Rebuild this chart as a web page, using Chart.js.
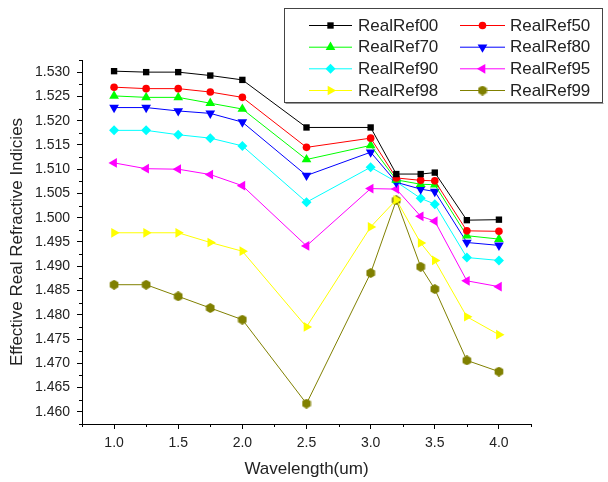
<!DOCTYPE html>
<html lang="en">
<head>
<meta charset="UTF-8">
<title>Effective Real Refractive Indicies</title>
<script src="https://cdn.jsdelivr.net/npm/chart.js"></script>
<style>
  html, body { margin: 0; padding: 0; background: #fff; }
  #wrap { width: 608px; height: 482px; position: relative; }
</style>
</head>
<body>
<div id="wrap"><canvas id="chart"></canvas></div>
<script>
// wavelength in um
const wavelengths = [1.0, 1.25, 1.5, 1.75, 2.0, 2.5, 3.0, 3.2, 3.39, 3.5, 3.75, 4.0];

const realRef00 = [1.5302, 1.5300, 1.5300, 1.5293, 1.5284, 1.5186, 1.5186, 1.5090, 1.5090, 1.5093, 1.4995, 1.4996];
const realRef50 = [1.5269, 1.5266, 1.5266, 1.5259, 1.5248, 1.5145, 1.5164, 1.5082, 1.5077, 1.5076, 1.4973, 1.4972];
const realRef70 = [1.5251, 1.5248, 1.5248, 1.5236, 1.5224, 1.5120, 1.5149, 1.5078, 1.5069, 1.5068, 1.4963, 1.4956];
const realRef80 = [1.5227, 1.5227, 1.5220, 1.5215, 1.5197, 1.5087, 1.5135, 1.5073, 1.5059, 1.5054, 1.4949, 1.4943];
const realRef90 = [1.5180, 1.5180, 1.5171, 1.5164, 1.5148, 1.5032, 1.5104, 1.5074, 1.5040, 1.5028, 1.4918, 1.4912];
const realRef95 = [1.5113, 1.5101, 1.5100, 1.5089, 1.5066, 1.4942, 1.5060, 1.5059, 1.5003, 1.4993, 1.4870, 1.4858];
const realRef98 = [1.4969, 1.4969, 1.4969, 1.4949, 1.4931, 1.4775, 1.4981, 1.5037, 1.4948, 1.4912, 1.4796, 1.4759];
const realRef99 = [1.4862, 1.4862, 1.4838, 1.4814, 1.4790, 1.4617, 1.4886, 1.5036, 1.4899, 1.4853, 1.4706, 1.4683];

const seriesNames = ['RealRef00', 'RealRef50', 'RealRef70', 'RealRef80', 'RealRef90', 'RealRef95', 'RealRef98', 'RealRef99'];
const seriesValues = [realRef00, realRef50, realRef70, realRef80, realRef90, realRef95, realRef98, realRef99];

const FONT = '"Liberation Sans", Arial, sans-serif';
const TEXT = '#222';

// Origin-like olive hexagon symbol
function hexagon(size, color) {
    const c = document.createElement('canvas');
    c.width = size;
    c.height = size;
    const g = c.getContext('2d');
    const r = size / 2;
    g.fillStyle = color;
    g.beginPath();
    for (let i = 0; i < 6; i++) {
        const a = Math.PI / 3 * i + Math.PI / 6;
        const px = r + Math.cos(a) * r;
        const py = r + Math.sin(a) * r;
        if (i === 0) g.moveTo(px, py); else g.lineTo(px, py);
    }
    g.closePath();
    g.fill();
    return c;
}

const styles = [
    { color: '#000000', point: 'rect', rot: 0, radius: 4.5 },
    { color: '#ff0000', point: 'circle', rot: 0, radius: 3.8 },
    { color: '#00ff00', point: 'triangle', rot: 0, radius: 5.6 },
    { color: '#0000ff', point: 'triangle', rot: 180, radius: 5.6 },
    { color: '#00ffff', point: 'rectRot', rot: 0, radius: 5 },
    { color: '#ff00ff', point: 'triangle', rot: 270, radius: 5.6 },
    { color: '#ffff00', point: 'triangle', rot: 90, radius: 5.6 },
    { color: '#808000', point: hexagon(10, '#808000'), rot: 0, radius: 5 },
];

const datasets = seriesNames.map((name, i) => ({
    label: name,
    data: wavelengths.map((w, j) => ({ x: w, y: seriesValues[i][j] })),
    borderColor: styles[i].color,
    backgroundColor: styles[i].color,
    borderWidth: 1,
    pointStyle: styles[i].point,
    pointRotation: styles[i].rot,
    pointRadius: styles[i].radius,
    pointBorderWidth: 0,
    tension: 0,
}));

// minor ticks (shorter) drawn on top of the scales
const minorTicks = {
    id: 'minorTicks',
    afterDraw(chart) {
        const { ctx, chartArea, scales } = chart;
        ctx.save();
        ctx.strokeStyle = '#000';
        ctx.lineWidth = 1;
        ctx.beginPath();
        scales.x.ticks.forEach(t => {
            if (Math.abs(t.value / 0.5 - Math.round(t.value / 0.5)) > 1e-6) {
                const px = Math.round(scales.x.getPixelForValue(t.value)) + 0.5;
                ctx.moveTo(px, chartArea.bottom);
                ctx.lineTo(px, chartArea.bottom + 3);
            }
        });
        scales.y.ticks.forEach(t => {
            if (Math.abs(t.value / 0.005 - Math.round(t.value / 0.005)) > 1e-6) {
                const py = Math.round(scales.y.getPixelForValue(t.value)) + 0.5;
                ctx.moveTo(chartArea.left, py);
                ctx.lineTo(chartArea.left - 3, py);
            }
        });
        ctx.stroke();
        ctx.restore();
    }
};

// boxed two-column legend, top right
const boxLegend = {
    id: 'boxLegend',
    afterDraw(chart) {
        const ctx = chart.ctx;
        const box = { left: 284.5, top: 8.5, width: 318, height: 94 };
        const rowY = [25, 46.7, 68.3, 90];
        const cols = [{ l0: 309, l1: 352, tx: 358 }, { l0: 460, l1: 505, tx: 510 }];
        ctx.save();
        ctx.fillStyle = '#fff';
        ctx.fillRect(box.left, box.top, box.width, box.height);
        ctx.strokeStyle = '#444';
        ctx.lineWidth = 1;
        ctx.strokeRect(box.left, box.top, box.width, box.height);
        ctx.strokeStyle = '#999';
        ctx.beginPath();
        ctx.moveTo(box.left + 1, box.top + box.height + 1);
        ctx.lineTo(box.left + box.width + 1, box.top + box.height + 1);
        ctx.stroke();
        ctx.font = '17px ' + FONT;
        ctx.textBaseline = 'middle';
        ctx.textAlign = 'left';
        chart.data.datasets.forEach((ds, i) => {
            const col = cols[i % 2];
            const y = rowY[Math.floor(i / 2)];
            ctx.strokeStyle = ds.borderColor;
            ctx.lineWidth = 1;
            ctx.beginPath();
            ctx.moveTo(col.l0, y + 0.5);
            ctx.lineTo(col.l1, y + 0.5);
            ctx.stroke();
            ctx.fillStyle = ds.backgroundColor;
            Chart.helpers.drawPoint(ctx, {
                pointStyle: ds.pointStyle,
                rotation: ds.pointRotation,
                radius: ds.pointRadius,
                borderWidth: 0,
            }, (col.l0 + col.l1) / 2, y + 0.5);
            ctx.fillStyle = TEXT;
            ctx.fillText(ds.label, col.tx, y + 1);
        });
        ctx.restore();
    }
};

new Chart(document.getElementById('chart').getContext('2d'), {
    type: 'line',
    data: { datasets },
    plugins: [minorTicks, boxLegend],
    options: {
        responsive: true,
        maintainAspectRatio: false,
        animation: false,
        layout: { padding: { top: 60, right: 77, left: 0, bottom: 0 } },
        plugins: {
            legend: { display: false },
            tooltip: { enabled: false },
        },
        scales: {
            x: {
                type: 'linear',
                min: 0.75,
                max: 4.25,
                afterFit: scale => { scale.height = 58; },
                grid: {
                    drawOnChartArea: false,
                    tickLength: 5,
                    tickColor: c => (Math.abs(c.tick.value / 0.5 - Math.round(c.tick.value / 0.5)) < 1e-6 ? '#000' : 'rgba(0,0,0,0)'),
                },
                border: { display: true, color: '#000', width: 1 },
                ticks: {
                    stepSize: 0.25,
                    autoSkip: false,
                    maxRotation: 0,
                    padding: 6,
                    color: TEXT,
                    font: { family: FONT, size: 14 },
                    callback: v => (Math.abs(v / 0.5 - Math.round(v / 0.5)) < 1e-6 ? v.toFixed(1) : ''),
                },
                title: {
                    display: true,
                    text: 'Wavelength(um)',
                    color: TEXT,
                    font: { family: FONT, size: 17 },
                    padding: { top: 0, bottom: 2 },
                },
            },
            y: {
                type: 'linear',
                min: 1.4575,
                max: 1.5325,
                afterFit: scale => { scale.width = 82; },
                grid: {
                    drawOnChartArea: false,
                    tickLength: 5,
                    tickColor: c => (Math.abs(c.tick.value / 0.005 - Math.round(c.tick.value / 0.005)) < 1e-6 ? '#000' : 'rgba(0,0,0,0)'),
                },
                border: { display: true, color: '#000', width: 1 },
                ticks: {
                    stepSize: 0.0025,
                    autoSkip: false,
                    padding: 7,
                    color: TEXT,
                    font: { family: FONT, size: 14 },
                    callback: v => (Math.abs(v / 0.005 - Math.round(v / 0.005)) < 1e-6 ? v.toFixed(3) : ''),
                },
                title: {
                    display: true,
                    text: 'Effective Real Refractive Indicies',
                    color: TEXT,
                    font: { family: FONT, size: 17 },
                    padding: { top: 7, bottom: 0 },
                },
            },
        },
    },
});
</script>
</body>
</html>
